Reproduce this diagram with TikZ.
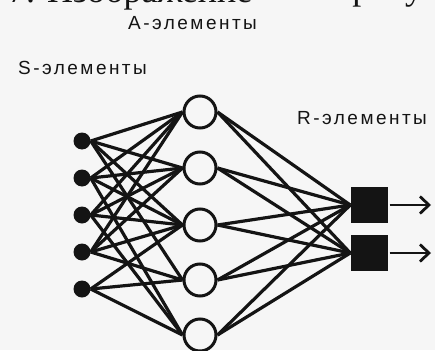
\documentclass[tikz,border=0pt]{standalone}
\usepackage{fontspec}
\setmainfont{Liberation Sans}
\newfontfamily\headfont{Liberation Serif}
\usetikzlibrary{arrows.meta}
\definecolor{paper}{RGB}{246,246,246}
\definecolor{ink}{RGB}{20,20,20}
\begin{document}
\begin{tikzpicture}[x=1pt,y=-1pt,
  link/.style={line width=3.2pt,draw=ink},
  snode/.style={circle,fill=ink,minimum size=17pt,inner sep=0pt},
  anode/.style={circle,draw=ink,line width=3pt,fill=paper,minimum size=32pt,inner sep=0pt},
  rnode/.style={rectangle,fill=ink,minimum width=37pt,minimum height=36pt,inner sep=0pt},
  lbl/.style={font=\fontsize{19}{21}\selectfont\addfontfeature{LetterSpace=13},text=ink,anchor=west,inner sep=0pt},
  outarrow/.style={line width=2.8pt,draw=ink,-{Straight Barb[length=9pt,width=17pt,line width=2.8pt]}}]
\useasboundingbox (0,0) rectangle (435,350);
\clip (0,0) rectangle (435,350);
\fill[paper] (0,0) rectangle (435,350);

% heading line, cut off at the top
\node[font=\headfont\fontsize{36}{40}\selectfont,text=ink,anchor=base west,inner sep=0pt] (head1) at (8,3) {7. Изображение};
\node[font=\headfont\fontsize{36}{40}\selectfont,text=ink,anchor=base west,inner sep=0pt] (head2) at (308,0) {на рисунку};

% layer labels
\node[lbl] (la) at (128,23) {А-элементы};
\node[lbl] (ls) at (18,68) {S-элементы};
\node[lbl] (lr) at (297,118) {R-элементы};

% S-elements
\foreach \i/\y in {1/141,2/178,3/215,4/252,5/289}
  \node[snode] (s\i) at (82,\y) {};

% A-elements
\foreach \i/\y in {1/112,2/168,3/225,4/280,5/335}
  \node[anode] (a\i) at (200,\y) {};

% R-elements
\node[rnode] (r1) at (369,205) {};
\node[rnode] (r2) at (369,253) {};

% S -> A links
\foreach \s/\a in {1/1,1/2,1/3,1/4,
                   2/1,2/2,2/3,2/5,
                   3/1,3/2,3/3,3/5,
                   4/1,4/2,4/3,4/4,
                   5/3,5/4,5/5}
  \draw[link] (s\s.east) -- (a\a.west);

% A -> R links
\foreach \a in {1,...,5}{
  \draw[link] (a\a.east) -- (r1.west);
  \draw[link] (a\a.east) -- (r2.west);
}

% outputs
\coordinate (o1) at (431,205);
\coordinate (o2) at (431,253);
\draw[outarrow] (r1.east) ++(2,0) -- (o1);
\draw[outarrow] (r2.east) ++(2,0) -- (o2);
\end{tikzpicture}
\end{document}
